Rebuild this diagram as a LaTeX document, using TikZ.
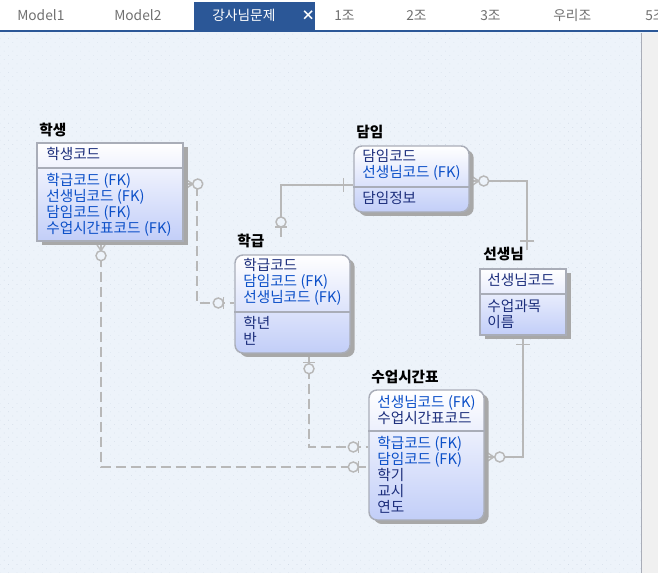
\documentclass[tikz,border=0pt]{standalone}
\usepackage{fontspec}
\setmainfont{Noto Sans CJK KR}
\usetikzlibrary{positioning,calc,fit,shadows,backgrounds,patterns.meta}
\definecolor{tabblue}{HTML}{2B5797}
\definecolor{tabgray}{HTML}{707070}
\definecolor{canvasbg}{HTML}{EDF3FA}
\definecolor{canvasdot}{HTML}{D3DCE8}
\definecolor{scrollgray}{HTML}{F0F0F0}
\definecolor{linegray}{HTML}{B8B8B8}
\definecolor{boxline}{HTML}{A9ADB8}
\definecolor{shadowgray}{HTML}{A8A8A8}
\definecolor{bodyblue}{HTML}{C2CEF8}
\definecolor{keynavy}{HTML}{1C2E7C}
\definecolor{fkblue}{HTML}{0B4FC8}
\tikzset{
  entbox/.style={draw=boxline, line width=1.1pt, top color=white, bottom color=bodyblue, inner sep=0pt,
    drop shadow={fill=shadowgray, opacity=1, shadow xshift=3.5pt, shadow yshift=-3pt}},
  entboxr/.style={entbox, rounded corners=6pt},
  enttitle/.style={font=\bfseries\fontsize{11}{12}\selectfont, anchor=base west, inner sep=0pt},
  keytxt/.style={font=\fontsize{11}{12}\selectfont, text=keynavy, anchor=base west, inner sep=0pt},
  fktxt/.style={keytxt, text=fkblue},
  sepline/.style={draw=boxline, line width=1.1pt},
  relline/.style={draw=linegray, line width=1.5pt},
  reldash/.style={relline, dash pattern=on 7.5pt off 3.75pt},
  endring/.style={relline, line width=1.1pt, fill=canvasbg},
  endmark/.style={relline, line width=1.1pt},
  tabtxt/.style={font=\fontsize{10.3}{12}\selectfont, text=tabgray, anchor=base west, inner sep=0pt},
}
\begin{document}
\begin{tikzpicture}[x=0.75pt, y=-0.75pt]
  \useasboundingbox (0,0) rectangle (658,573);

  % 학생
  \node[entbox, fit={(37,143) (183,241)}] (haksaeng) {};
  \draw[sepline] (haksaeng.west |- 0,168) -- (haksaeng.east |- 0,168);
  \node[enttitle] (haksaeng-t) at (39,136) {학생};
  \node[keytxt] (haksaeng-k) at (46,160) {학생코드};
  \foreach \s/\t [count=\i] in {fktxt/학급코드 (FK), fktxt/선생님코드 (FK), fktxt/담임코드 (FK), fktxt/수업시간표코드 (FK)}
    \node[\s] (haksaeng-a\i) at (46,{170+16*\i}) {\t};

  % 담임
  \node[entboxr, fit={(354,146) (469,212)}] (damim) {};
  \draw[sepline] (damim.west |- 0,187) -- (damim.east |- 0,187);
  \node[enttitle] (damim-t) at (356,138) {담임};
  \foreach \s/\t [count=\i] in {keytxt/담임코드, fktxt/선생님코드 (FK)}
    \node[\s] (damim-k\i) at (362,{146+16*\i}) {\t};
  \node[keytxt] (damim-a1) at (362,204) {담임정보};

  % 학급
  \node[entboxr, fit={(235,255) (350,353)}] (hakgeup) {};
  \draw[sepline] (hakgeup.west |- 0,312) -- (hakgeup.east |- 0,312);
  \node[enttitle] (hakgeup-t) at (237,247) {학급};
  \foreach \s/\t [count=\i] in {keytxt/학급코드, fktxt/담임코드 (FK), fktxt/선생님코드 (FK)}
    \node[\s] (hakgeup-k\i) at (243,{255+16*\i}) {\t};
  \foreach \t [count=\i] in {학년, 반}
    \node[keytxt] (hakgeup-a\i) at (243,{313+16*\i}) {\t};

  % 선생님
  \node[entbox, fit={(480,269) (566,335)}] (seonsaeng) {};
  \draw[sepline] (seonsaeng.west |- 0,294) -- (seonsaeng.east |- 0,294);
  \node[enttitle] (seonsaeng-t) at (483,260) {선생님};
  \node[keytxt] (seonsaeng-k) at (487,286) {선생님코드};
  \foreach \t [count=\i] in {수업과목, 이름}
    \node[keytxt] (seonsaeng-a\i) at (487,{296+16*\i}) {\t};

  % 수업시간표
  \node[entboxr, fit={(369,390) (484,520)}] (sueop) {};
  \draw[sepline] (sueop.west |- 0,431) -- (sueop.east |- 0,431);
  \node[enttitle] (sueop-t) at (371,383) {수업시간표};
  \foreach \s/\t [count=\i] in {fktxt/선생님코드 (FK), keytxt/수업시간표코드}
    \node[\s] (sueop-k\i) at (377,{392+16*\i}) {\t};
  \foreach \s/\t [count=\i] in {fktxt/학급코드 (FK), fktxt/담임코드 (FK), keytxt/학기, keytxt/교시, keytxt/연도}
    \node[\s] (sueop-a\i) at (377,{433+16*\i}) {\t};

  \begin{scope}[on background layer]
    % canvas and tabs
    \fill[canvasbg] (0,32) rectangle (658,573);
    \fill[pattern={Dots[distance=4.5pt, radius=.3pt, angle=45]}, pattern color=canvasdot] (0,32) rectangle (641,573);
    \fill[white] (0,0) rectangle (658,31);
    \fill[tabblue] (194,2) rectangle (315,31);
    \draw[tabblue, line width=1.5pt] (0,31.5) -- (658,31.5);
    \fill[scrollgray] (641,33) rectangle (658,573);
    \draw[boxline, line width=.75pt] (641,33) -- (641,573);
    \foreach \x/\t [count=\i] in {17/Model1, 114/Model2, 334/1조, 406/2조, 480/3조, 553/우리조, 645/5조}
      \node[tabtxt] (tab\i) at (\x,21) {\t};
    \node[tabtxt, text=white] (tab-act) at (212,21) {강사님문제};
    \node[tabtxt, text=white, font=\bfseries\fontsize{10.3}{12}\selectfont] (tab-x) at (301,21) {×};

    % connector ends
    \coordinate (hs-r) at (haksaeng.east |- 0,184);
    \coordinate (hs-b) at (haksaeng.south -| 101,0);
    \coordinate (hg-l) at (hakgeup.west |- 0,303);
    \coordinate (hg-t) at (281,237);
    \coordinate (hg-b) at (hakgeup.south -| 309,0);
    \coordinate (dm-l) at (damim.west |- 0,185);
    \coordinate (dm-r) at (damim.east |- 0,181);
    \coordinate (ss-t) at (527,250);
    \coordinate (ss-b) at (seonsaeng.south -| 523,0);
    \coordinate (sg-l1) at (sueop.west |- 0,447);
    \coordinate (sg-l2) at (sueop.west |- 0,467);
    \coordinate (sg-r) at (sueop.east |- 0,457);

    % relations
    \draw[reldash] (hs-r) -- ++(13,0) |- (hg-l);
    \draw[reldash] (hs-b) |- (sg-l2);
    \draw[reldash] (hg-b) |- (sg-l1);
    \draw[relline] (hg-t) |- (dm-l);
    \draw[relline] (dm-r) -| (ss-t);
    \draw[relline] (ss-b) |- (sg-r);

    % 학생 ends
    \draw[endmark] ($(hs-r)+(0,-6)$) -- ($(hs-r)+(9,0)$) -- ($(hs-r)+(0,6)$);
    \draw[endring] ($(hs-r)+(14,0)$) circle (3.75pt);
    \draw[endmark] ($(hs-b)+(-6,0)$) -- ($(hs-b)+(0,9)$) -- ($(hs-b)+(6,0)$);
    \draw[endring] ($(hs-b)+(0,14)$) circle (3.75pt);
    % 학급 ends
    \draw[endmark] ($(hg-l)+(-11,-6)$) -- ++(0,12);
    \draw[endring] ($(hg-l)+(-16,0)$) circle (3.75pt);
    \draw[endmark] ($(hg-b)+(-6,9)$) -- ++(12,0);
    \draw[endring] ($(hg-b)+(0,15)$) circle (3.75pt);
    \draw[endmark] ($(hg-t)+(-6,-10)$) -- ++(12,0);
    \draw[endring] ($(hg-t)+(0,-15)$) circle (3.75pt);
    % 담임 ends
    \draw[endmark] ($(dm-l)+(-10,-7)$) -- ++(0,14);
    \draw[endmark] ($(dm-r)+(0,-6)$) -- ($(dm-r)+(9,0)$) -- ($(dm-r)+(0,6)$);
    \draw[endring] ($(dm-r)+(14,0)$) circle (3.75pt);
    % 선생님 ends
    \draw[endmark] ($(ss-t)+(-7,-9)$) -- ++(14,0);
    \draw[endmark] ($(ss-b)+(-7,9)$) -- ++(14,0);
    % 수업시간표 ends
    \draw[endmark] ($(sg-l1)+(-10,-6)$) -- ++(0,12);
    \draw[endring] ($(sg-l1)+(-15,0)$) circle (3.75pt);
    \draw[endmark] ($(sg-l2)+(-10,-6)$) -- ++(0,12);
    \draw[endring] ($(sg-l2)+(-15,0)$) circle (3.75pt);
    \draw[endmark] ($(sg-r)+(0,-6)$) -- ($(sg-r)+(9,0)$) -- ($(sg-r)+(0,6)$);
    \draw[endring] ($(sg-r)+(15,0)$) circle (3.75pt);
  \end{scope}
\end{tikzpicture}
\end{document}
